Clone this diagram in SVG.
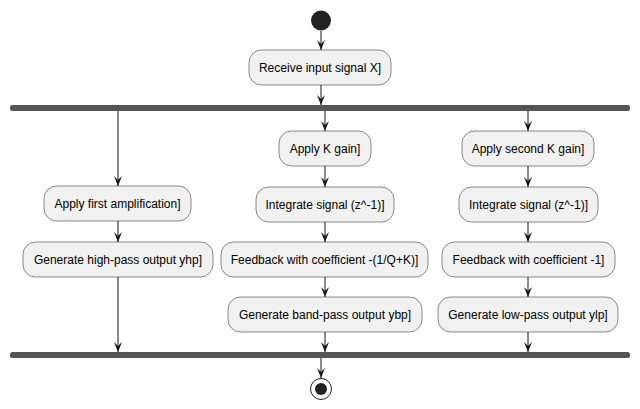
<svg xmlns="http://www.w3.org/2000/svg" width="640" height="409" viewBox="0 0 640 409">
<defs>
<marker id="arr" markerUnits="userSpaceOnUse" markerWidth="10" markerHeight="8" viewBox="0 0 10 8" refX="10" refY="4" orient="auto">
<path d="M0,0 L10,4 L0,8 L4,4 Z" fill="#181818"/>
</marker>
<style>
.box{fill:#F1F1F1;stroke:#181818;stroke-width:0.5}
.t{font-family:"Liberation Sans",Arial,sans-serif;font-size:12px;fill:#000;text-anchor:middle}
.c{stroke:#181818;stroke-width:1;fill:none;marker-end:url(#arr)}
.bar{fill:#555555}
</style>
</defs>
<rect width="640" height="409" fill="#FFFFFF"/>
<g id="connectors">
<line class="c" x1="321" y1="31" x2="321" y2="50"/>
<line class="c" x1="321" y1="85" x2="321" y2="105"/>
<line class="c" x1="118" y1="111" x2="118" y2="186"/>
<line class="c" x1="325" y1="111" x2="325" y2="131"/>
<line class="c" x1="528" y1="111" x2="528" y2="131"/>
<line class="c" x1="118" y1="221" x2="118" y2="242"/>
<line class="c" x1="325" y1="166" x2="325" y2="187"/>
<line class="c" x1="325" y1="222" x2="325" y2="242"/>
<line class="c" x1="325" y1="277" x2="325" y2="297"/>
<line class="c" x1="528" y1="166" x2="528" y2="187"/>
<line class="c" x1="528" y1="222" x2="528" y2="242"/>
<line class="c" x1="528" y1="277" x2="528" y2="297"/>
<line class="c" x1="118" y1="277" x2="118" y2="352"/>
<line class="c" x1="325" y1="332" x2="325" y2="352"/>
<line class="c" x1="528" y1="332" x2="528" y2="352"/>
<line class="c" x1="321" y1="358" x2="321" y2="378"/>
</g>
<g id="start"><circle cx="321" cy="20.5" r="10" fill="#222222"/></g>
<g id="receive"><rect class="box" x="249" y="50" width="142" height="35" rx="12.5"/><text class="t" x="320" y="71.5">Receive input signal X]</text></g>
<g id="fork"><rect class="bar" x="10" y="105" width="620" height="6" rx="2.5"/></g>
<g id="amp1"><rect class="box" x="44" y="186" width="147" height="35" rx="12.5"/><text class="t" x="117.5" y="207.5">Apply first amplification]</text></g>
<g id="hp"><rect class="box" x="23" y="242" width="190" height="35" rx="12.5"/><text class="t" x="118" y="263.5">Generate high-pass output yhp]</text></g>
<g id="kgain"><rect class="box" x="279" y="131" width="92" height="35" rx="12.5"/><text class="t" x="325" y="152.5">Apply K gain]</text></g>
<g id="int1"><rect class="box" x="256" y="187" width="138" height="35" rx="12.5"/><text class="t" x="325" y="208.5">Integrate signal (z^-1)]</text></g>
<g id="fb1"><rect class="box" x="221" y="242" width="207" height="35" rx="12.5"/><text class="t" x="324.5" y="263.5">Feedback with coefficient -(1/Q+K)]</text></g>
<g id="bp"><rect class="box" x="228" y="297" width="194" height="35" rx="12.5"/><text class="t" x="325" y="318.5">Generate band-pass output ybp]</text></g>
<g id="kgain2"><rect class="box" x="462" y="131" width="132" height="35" rx="12.5"/><text class="t" x="528" y="152.5">Apply second K gain]</text></g>
<g id="int2"><rect class="box" x="459" y="187" width="139" height="35" rx="12.5"/><text class="t" x="528.5" y="208.5">Integrate signal (z^-1)]</text></g>
<g id="fb2"><rect class="box" x="442" y="242" width="173" height="35" rx="12.5"/><text class="t" x="528.5" y="263.5">Feedback with coefficient -1]</text></g>
<g id="lp"><rect class="box" x="438" y="297" width="180" height="35" rx="12.5"/><text class="t" x="528" y="318.5">Generate low-pass output ylp]</text></g>
<g id="join"><rect class="bar" x="10" y="352" width="620" height="6" rx="2.5"/></g>
<g id="end"><circle cx="321" cy="389" r="10.5" fill="none" stroke="#222222" stroke-width="1"/><circle cx="321" cy="389" r="6" fill="#222222"/></g>
</svg>
